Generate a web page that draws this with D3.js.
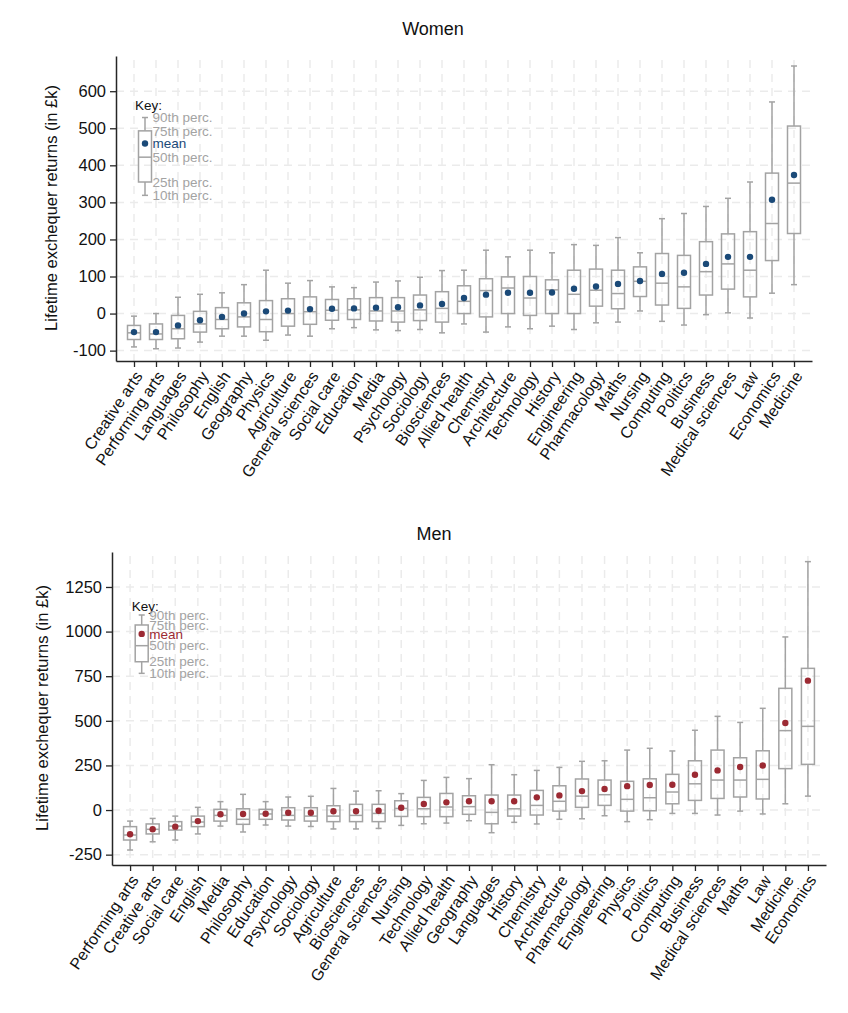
<!DOCTYPE html>
<html><head><meta charset="utf-8">
<script src="https://cdn.jsdelivr.net/npm/d3@7"></script>
<style>
body{margin:0;background:#fff;}
text{font-family:"Liberation Sans",Arial,sans-serif;}
</style></head>
<body><svg id="c" width="848" height="1013"></svg>
<script>
// ---------- Women ----------
const catsW = ["Creative arts","Performing arts","Languages","Philosophy","English","Geography","Physics","Agriculture","General sciences","Social care","Education","Media","Psychology","Sociology","Biosciences","Allied health","Chemistry","Architecture","Technology","History","Engineering","Pharmacology","Maths","Nursing","Computing","Politics","Business","Medical sciences","Law","Economics","Medicine"];
const p90W = [-7,0,44,52,56,78,117,82,89,72,70,85,88,98,116,117,171,153,171,164,186,184,205,164,256,270,289,311,355,571,668];
const p75W = [-32,-28,-5,6,16,29,35,40,45,38,40,43,43,50,59,75,94,99,100,91,117,120,117,126,162,157,194,215,221,379,506];
const p50W = [-52,-55,-41,-28,-16,-9,-16,0,5,9,10,7,7,10,14,33,62,69,42,64,52,63,54,87,82,72,113,134,117,243,352];
const meanW = [-50,-50,-32,-18,-9,0,6,8,12,13,14,16,17,22,26,42,51,56,56,57,67,73,80,88,107,110,134,153,153,307,374];
const p25W = [-70,-70,-68,-50,-41,-36,-49,-34,-29,-18,-16,-20,-23,-19,-23,0,-9,0,-5,0,0,20,13,46,23,14,50,66,45,143,216];
const p10W = [-90,-95,-93,-77,-61,-61,-72,-58,-61,-41,-38,-44,-46,-43,-52,-28,-50,-36,-41,-34,-43,-25,-23,7,-21,-31,-3,2,-12,55,78];
const ticksW = [-100,0,100,200,300,400,500,600];
const keyW = {p10:319,p25:355,p50:422,mean:459,p75:493,p90:529};

// ---------- Men ----------
const catsM = ["Performing arts","Creative arts","Social care","English","Media","Philosophy","Education","Psychology","Sociology","Agriculture","Biosciences","General sciences","Nursing","Technology","Allied health","Geography","Languages","History","Chemistry","Architecture","Pharmacology","Engineering","Physics","Politics","Computing","Business","Medical sciences","Maths","Law","Medicine","Economics"];
const p90M = [-62,-47,-34,15,47,88,47,73,77,121,106,108,92,166,183,176,254,198,222,239,273,276,336,346,331,447,525,491,570,970,1392];
const p75M = [-93,-78,-65,-34,4,7,4,13,13,24,32,32,52,71,93,80,84,84,110,136,174,168,161,175,200,276,336,293,332,682,794];
const p50M = [-140,-108,-90,-67,-30,-52,-22,-30,-34,-34,-30,-19,9,7,17,19,-13,7,26,49,78,86,60,69,101,147,168,168,172,445,469];
const meanM = [-136,-108,-93,-62,-24,-22,-21,-15,-15,-7,-7,-4,13,34,43,49,49,49,71,82,106,118,134,140,142,198,222,241,250,488,725];
const p25M = [-168,-134,-112,-93,-62,-80,-52,-56,-62,-65,-65,-65,-36,-37,-37,-24,-77,-34,-28,-6,15,26,-6,-4,35,54,65,73,62,232,256];
const p10M = [-224,-178,-168,-134,-90,-123,-84,-90,-92,-106,-106,-103,-86,-77,-73,-60,-127,-69,-78,-52,-49,-32,-65,-54,-19,-19,-28,-6,-22,35,78];
const ticksM = [-250,0,250,500,750,1000,1250];
const keyM = {p10:766,p25:831,p50:921,mean:987,p75:1037,p90:1093};

const keyLabels = ["90th perc.","75th perc.","mean","50th perc.","25th perc.","10th perc."];
const keyFields = ["p90","p75","mean","p50","p25","p10"];

const svg = d3.select("#c");
const boxCol = "#a3a3a3", gridCol = "#ebebeb", axisCol = "#262626";

function panel(o){
  const g = svg.append("g");
  const x = d3.scalePoint().domain(o.cats).range([o.x0,o.x1]).padding(o.pad);
  const y = d3.scaleLinear().domain(o.dom).range([o.yb,o.yt]);
  const data = o.cats.map((c,i)=>({c,p10:o.p10[i],p25:o.p25[i],p50:o.p50[i],mean:o.mean[i],p75:o.p75[i],p90:o.p90[i]}));
  // grid
  g.selectAll(".hg").data(o.ticks).join("line")
    .attr("x1",o.x0).attr("x2",o.x1).attr("y1",d=>y(d)).attr("y2",d=>y(d))
    .attr("stroke",gridCol).attr("stroke-width",1.5).attr("stroke-dasharray","8,6");
  g.selectAll(".vg").data(o.cats).join("line")
    .attr("x1",d=>x(d)).attr("x2",d=>x(d)).attr("y1",o.yt+4).attr("y2",o.yb)
    .attr("stroke",gridCol).attr("stroke-width",1.5).attr("stroke-dasharray","8,6");
  // title
  svg.append("text").attr("x",o.tx).attr("y",o.ty).attr("text-anchor","middle")
    .attr("font-size",18).attr("fill","#111").text(o.title);
  // y label
  svg.append("text").attr("transform",`translate(${o.ylx},${o.yly}) rotate(-90)`)
    .attr("text-anchor","middle").attr("font-size",16.5).attr("fill","#111")
    .text("Lifetime exchequer returns (in £k)");
  const hw = 6.5, cw = 3;
  const bx = g.selectAll(".b").data(data).join("g");
  bx.append("line").attr("x1",d=>x(d.c)).attr("x2",d=>x(d.c)).attr("y1",d=>y(d.p90)).attr("y2",d=>y(d.p75)).attr("stroke",boxCol).attr("stroke-width",1.5);
  bx.append("line").attr("x1",d=>x(d.c)).attr("x2",d=>x(d.c)).attr("y1",d=>y(d.p25)).attr("y2",d=>y(d.p10)).attr("stroke",boxCol).attr("stroke-width",1.5);
  bx.append("line").attr("x1",d=>x(d.c)-cw).attr("x2",d=>x(d.c)+cw).attr("y1",d=>y(d.p90)).attr("y2",d=>y(d.p90)).attr("stroke",boxCol).attr("stroke-width",1.5);
  bx.append("line").attr("x1",d=>x(d.c)-cw).attr("x2",d=>x(d.c)+cw).attr("y1",d=>y(d.p10)).attr("y2",d=>y(d.p10)).attr("stroke",boxCol).attr("stroke-width",1.5);
  bx.append("rect").attr("x",d=>x(d.c)-hw).attr("width",2*hw).attr("y",d=>y(d.p75)).attr("height",d=>y(d.p25)-y(d.p75))
    .attr("fill","none").attr("stroke",boxCol).attr("stroke-width",1.5);
  bx.append("line").attr("x1",d=>x(d.c)-hw).attr("x2",d=>x(d.c)+hw).attr("y1",d=>y(d.p50)).attr("y2",d=>y(d.p50)).attr("stroke",boxCol).attr("stroke-width",1.5);
  bx.append("circle").attr("cx",d=>x(d.c)).attr("cy",d=>y(d.mean)).attr("r",3.2).attr("fill",o.dot);
  // key
  const k = o.key, kx = o.kx;
  const kg = g.append("g");
  kg.append("line").attr("x1",kx).attr("x2",kx).attr("y1",y(k.p90)).attr("y2",y(k.p75)).attr("stroke",boxCol).attr("stroke-width",1.5);
  kg.append("line").attr("x1",kx).attr("x2",kx).attr("y1",y(k.p25)).attr("y2",y(k.p10)).attr("stroke",boxCol).attr("stroke-width",1.5);
  kg.append("line").attr("x1",kx-cw).attr("x2",kx+cw).attr("y1",y(k.p90)).attr("y2",y(k.p90)).attr("stroke",boxCol).attr("stroke-width",1.5);
  kg.append("line").attr("x1",kx-cw).attr("x2",kx+cw).attr("y1",y(k.p10)).attr("y2",y(k.p10)).attr("stroke",boxCol).attr("stroke-width",1.5);
  kg.append("rect").attr("x",kx-hw).attr("width",2*hw).attr("y",y(k.p75)).attr("height",y(k.p25)-y(k.p75)).attr("fill","none").attr("stroke",boxCol).attr("stroke-width",1.5);
  kg.append("line").attr("x1",kx-hw).attr("x2",kx+hw).attr("y1",y(k.p50)).attr("y2",y(k.p50)).attr("stroke",boxCol).attr("stroke-width",1.5);
  kg.append("circle").attr("cx",kx).attr("cy",y(k.mean)).attr("r",3.2).attr("fill",o.dot);
  kg.append("text").attr("x",kx-10).attr("y",y(k.p90)-o.keyGap).attr("dy","0.35em").attr("font-size",13.5).attr("fill","#111").text("Key:");
  kg.selectAll(".kl").data(keyLabels).join("text")
    .attr("x",kx+hw+1).attr("y",(d,i)=>y(k[keyFields[i]])).attr("dy","0.35em")
    .attr("font-size",13.5).attr("fill",(d,i)=>i===2?o.dot:"#a3a3a3").text(d=>d);
  // axes
  const ya = g.append("g").attr("transform",`translate(${o.x0},0)`)
    .call(d3.axisLeft(y).tickValues(o.ticks).tickFormat(d=>String(d)).tickSize(6).tickPadding(4).tickSizeOuter(0));
  ya.select(".domain").attr("stroke",axisCol).attr("stroke-width",1.5);
  ya.selectAll(".tick line").attr("stroke",axisCol).attr("stroke-width",1.3);
  ya.selectAll("text").attr("font-size",16.5).attr("fill","#111").attr("font-family","Liberation Sans, Arial, sans-serif");
  const xa = g.append("g").attr("transform",`translate(0,${o.yb})`)
    .call(d3.axisBottom(x).tickSize(6).tickSizeOuter(0));
  xa.select(".domain").attr("stroke",axisCol).attr("stroke-width",1.5);
  xa.selectAll(".tick line").attr("stroke",axisCol).attr("stroke-width",1.3);
  xa.selectAll("text").attr("font-size",16).attr("fill","#111").attr("font-family","Liberation Sans, Arial, sans-serif")
    .attr("text-anchor","end").attr("x",0).attr("y",0).attr("dy","0.35em")
    .attr("transform","translate(4,12) rotate(-56)");
}

panel({cats:catsW,p10:p10W,p25:p25W,p50:p50W,mean:meanW,p75:p75W,p90:p90W,ticks:ticksW,
  x0:116,x1:812,pad:0.818,dom:[-128,695],yb:361,yt:56,dot:"#1b4a78",key:keyW,kx:145,keyGap:12,
  title:"Women",tx:433,ty:35,ylx:57,yly:208});
panel({cats:catsM,p10:p10M,p25:p25M,p50:p50M,mean:meanM,p75:p75M,p90:p90M,ticks:ticksM,
  x0:112,x1:826,pad:0.8,dom:[-308,1446],yb:865,yt:552,dot:"#9c2a33",key:keyM,kx:141.7,keyGap:9,
  title:"Men",tx:434,ty:540,ylx:48,yly:708});
</script></body></html>
